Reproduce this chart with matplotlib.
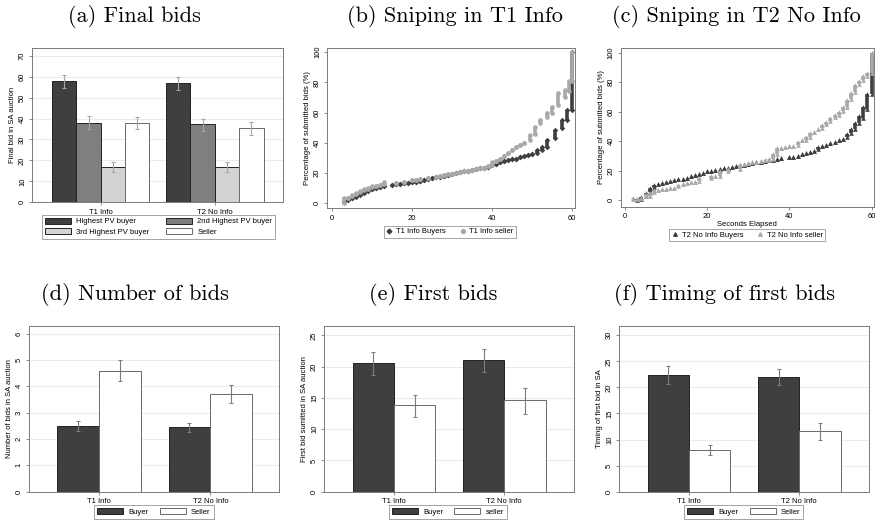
import numpy as np
import matplotlib.pyplot as plt
from matplotlib.patches import Patch
from matplotlib.lines import Line2D

plt.rcParams['font.family'] = ['Liberation Sans', 'DejaVu Sans']

groups = ['T1 Info', 'T2 No Info']

# (a) final bids
final_labels = ['Highest PV buyer', '2nd Highest PV buyer', '3rd Highest PV buyer', 'Seller']
final_mean = [[57.8, 56.8], [38.0, 37.2], [16.7, 16.7], [38.0, 35.3]]
final_lo = [[54.8, 53.8], [35.0, 34.0], [14.5, 14.3], [35.0, 32.0]]
final_hi = [[60.6, 59.6], [41.0, 40.0], [19.0, 19.2], [40.6, 38.5]]

# (d) number of bids
nbids_mean = [[2.50, 2.44], [4.60, 3.71]]
nbids_lo = [[2.30, 2.27], [4.20, 3.37]]
nbids_hi = [[2.68, 2.62], [5.01, 4.07]]

# (e) first bids
first_mean = [[20.5, 21.1], [13.8, 14.6]]
first_lo = [[18.6, 19.2], [12.0, 12.4]]
first_hi = [[22.3, 22.8], [15.5, 16.6]]

# (f) timing of first bids
timing_mean = [[22.4, 22.0], [7.9, 11.6]]
timing_lo = [[20.7, 20.4], [7.0, 10.0]]
timing_hi = [[24.1, 23.6], [8.9, 13.1]]

# (b) sniping T1 Info: seconds, lowest and highest cumulative % at that second
t1_buy_sec = [3, 4, 5, 6, 7, 8, 9, 10, 11, 12, 13, 15, 16, 17, 18, 19, 20, 21, 22, 23, 24, 25,
              26, 27, 28, 29, 30, 31, 32, 33, 34, 35, 36, 37, 38, 39, 40, 41, 42, 43, 44, 45,
              46, 47, 48, 49, 50, 51.2, 52.5, 53.7, 55.8, 57.5, 58.7, 60]
t1_buy_lo = [0.5, 2, 3, 4, 5, 6.5, 8, 9.5, 10, 10.5, 11, 12, 12.3, 12.7, 13.2, 13.5, 13.8, 14.2,
             14.6, 15.1, 15.8, 16.3, 17, 17.5, 18, 18.6, 19.2, 19.8, 20.4, 21, 21.5, 22, 22.5,
             23, 23.4, 24, 25, 26, 27, 28, 28.5, 29, 29.5, 30.2, 31, 31.8, 32.6, 33.2, 35.2,
             37.4, 42.9, 49.6, 55, 61.5]
t1_buy_hi = [1.5, 2.5, 3.5, 4.5, 6, 7.5, 9, 9.5, 10, 10.5, 11, 12, 12.3, 12.7, 13.2, 13.5, 13.8,
             14.2, 14.6, 15.1, 15.8, 16.3, 17, 17.5, 18, 18.6, 19.2, 19.8, 20.4, 21, 21.5, 22,
             22.5, 23, 23.4, 24, 25, 26, 27, 28, 28.5, 29, 29.5, 30.2, 31, 31.8, 32.6, 35,
             37.4, 41.8, 48.4, 55, 61.7, 100]
t1_sel_sec = [3, 4, 5, 6, 7, 8, 9, 10, 11, 12, 13, 16, 18, 20, 21, 22, 24, 26, 27, 28, 29, 30,
              31, 32, 33, 34, 35, 36, 37, 38, 39, 40, 41, 42, 43, 44, 45, 46, 47, 48, 49.5,
              50.8, 52, 53.7, 55, 56.6, 58.3, 59.2, 60]
t1_sel_lo = [0, 3.5, 4.5, 6, 7.5, 8.5, 9.5, 10.5, 11.5, 12.2, 12.8, 13, 14.2, 15, 15.5, 16,
             16.8, 17.5, 18, 18.6, 19, 19.5, 20, 20.5, 21, 21.5, 22, 22.5, 23, 23.5, 24.5, 25,
             28, 29.5, 31, 33, 35, 37, 38.5, 39.5, 41.8, 46, 53, 57, 59.7, 65, 70.5, 74, 81]
t1_sel_hi = [3, 3.5, 5, 6.5, 8, 9, 10, 11, 11.5, 12.2, 14, 13, 14.2, 15, 15.5, 16, 16.8, 17.5,
             18, 18.6, 19, 19.5, 20, 20.5, 21, 21.5, 22, 22.5, 23, 23.5, 24.5, 27, 28, 29.5,
             31, 33, 35, 37, 38.5, 39.5, 45, 50.6, 55, 59.7, 64, 73, 75, 81, 100]

# (c) sniping T2 No Info
t2_buy_sec = [3, 4, 5, 6, 7, 8, 9, 10, 11, 12, 13, 14, 15, 16, 17, 18, 19, 20, 21, 22, 23, 24,
              25, 26, 27, 28, 29, 30, 31, 32, 33, 34, 35, 36, 37, 38, 40, 41, 42, 43, 44, 45,
              46, 47, 48, 49, 50, 51, 52, 53, 54, 55, 56, 57, 58, 59, 60]
t2_buy_lo = [0, 1, 3, 5.5, 9, 11, 11.7, 12.3, 12.8, 13.3, 14, 14.6, 15.3, 16, 16.8, 17.6, 18.5,
             19.5, 20, 20.6, 21.1, 21.6, 22.1, 22.6, 23.1, 23.6, 24.1, 24.6, 25, 25.5, 26, 26.5,
             27, 27.5, 28, 28.4, 29, 29.5, 30, 31, 31.8, 32.6, 33.5, 34.5, 36.5, 37.5, 38.5,
             39.5, 40.5, 41.5, 42.5, 45.5, 48, 52, 56, 62, 72]
t2_buy_hi = [1, 2, 5, 8.5, 10.5, 11, 11.7, 12.3, 12.8, 13.3, 14, 14.6, 15.3, 16, 16.8, 17.6,
             18.5, 19.5, 20, 20.6, 21.1, 21.6, 22.1, 22.6, 23.1, 23.6, 24.1, 24.6, 25, 25.5, 26,
             26.5, 27, 27.5, 28, 28.4, 29, 29.5, 30, 31, 31.8, 32.6, 33.5, 36, 36.5, 37.5, 38.5,
             39.5, 40.5, 41.5, 45, 48, 52, 57, 63, 72, 100]
t2_sel_sec = [2, 3, 4, 5, 6, 7, 8, 9, 10, 11, 12, 13, 14, 15, 16, 17, 18, 21, 22, 23, 25, 28,
              29, 30, 31, 32, 33, 34, 35, 36, 37, 38, 39, 40, 41, 42, 43, 44, 45, 46, 47, 48,
              49, 50, 51, 52, 53, 54, 55, 56, 57, 58, 59, 60]
t2_sel_lo = [0.5, 1, 1.5, 2.5, 3, 5.5, 6.8, 7.2, 7.6, 8, 8.5, 9.5, 11, 11.5, 12, 12.5, 13, 15,
             16.5, 16.5, 20, 21, 24.5, 25, 25.5, 26, 26.5, 27, 27.5, 28, 31, 35.5, 36, 36.5, 37,
             37.5, 40.5, 41, 43, 46.5, 48, 49, 51.5, 53.5, 56.5, 58, 60.5, 63.5, 68.5, 73.5,
             78.5, 81.5, 84.5, 86]
t2_sel_hi = [1.5, 1, 1.5, 4, 5, 6.5, 6.8, 7.2, 7.6, 8, 8.5, 10.5, 11, 11.5, 12, 12.5, 15, 16,
             16.5, 19.5, 21, 24, 24.5, 25, 25.5, 26, 26.5, 27, 28, 31, 35, 35.5, 36, 36.5, 37,
             39.5, 40.5, 42.5, 45.5, 46.5, 48, 51, 53, 56, 57.5, 60, 63, 68, 73, 78, 81, 84, 86,
             100]

DARK = '#3f3f3f'
MID = '#7f7f7f'
LIGHT = '#d3d3d3'
PTLIGHT = '#a9a9a9'
FRAME = '#7a7a7a'
FS = 5.5

W, H = 875, 523


def px_axes(fig, left, top, right, bottom):
    return fig.add_axes([left / W, 1 - bottom / H, (right - left) / W, (bottom - top) / H])


def style(ax, yticks, ylim):
    for s in ax.spines.values():
        s.set_color(FRAME)
        s.set_linewidth(0.7)
    ax.set_ylim(*ylim)
    ax.set_yticks(yticks)
    ax.tick_params(axis='y', labelrotation=90, labelsize=FS, length=2.5, width=0.6,
                   color=FRAME, pad=2)
    for lab in ax.get_yticklabels():
        lab.set_va('center')
    ax.tick_params(axis='x', labelsize=FS, length=2.5, width=0.6, color=FRAME, pad=2)


def grid(ax, yticks):
    for y in yticks[1:]:
        ax.axhline(y, color='#ebebeb', lw=0.8, zorder=0)


def bars(ax, means, los, his, colors, width, errcol):
    n = len(means)
    x = np.arange(len(groups))
    for i in range(n):
        xi = x + (i - (n - 1) / 2) * width
        m = np.array(means[i])
        yerr = [m - np.array(los[i]), np.array(his[i]) - m]
        ec = '#222222' if colors[i] != 'white' else '#6a6a6a'
        ax.bar(xi, m, width, color=colors[i], edgecolor=ec, linewidth=0.7, zorder=2)
        ax.errorbar(xi, m, yerr=yerr, fmt='none', ecolor=errcol, elinewidth=0.8,
                    capsize=1.6, capthick=0.8, zorder=3)
    ax.set_xticks(x)
    ax.set_xticklabels(groups)
    ax.tick_params(axis='x', length=0)


def bar_legend(ax, labels, colors, anchor, ncol, order=None, colsp=1.5):
    hs = []
    for lab, c in zip(labels, colors):
        ec = '#222222' if c != 'white' else '#6a6a6a'
        hs.append(Patch(facecolor=c, edgecolor=ec, linewidth=0.7, label=lab))
    if order is not None:
        hs = [hs[k] for k in order]
    leg = ax.legend(handles=hs, ncol=ncol, fontsize=FS, frameon=True, fancybox=False,
                    edgecolor=FRAME, handlelength=3.4, handleheight=0.9, borderpad=0.4,
                    columnspacing=colsp, handletextpad=0.7, labelspacing=0.3,
                    loc='center', bbox_to_anchor=anchor)
    leg.get_frame().set_linewidth(0.6)


def streaks(ax, sec, lo, hi, color, marker, ms, z):
    ax.vlines(sec, lo, hi, color=color, lw=2.6, zorder=z)
    ax.scatter(sec, lo, s=ms, marker=marker, color=color, linewidths=0, zorder=z)
    ax.scatter(sec, hi, s=ms, marker=marker, color=color, linewidths=0, zorder=z)


def point_legend(ax, hs, anchor):
    leg = ax.legend(handles=hs, ncol=2, loc='center', bbox_to_anchor=anchor,
                    fontsize=FS, fancybox=False, edgecolor=FRAME, handlelength=0.8,
                    handletextpad=0.5, columnspacing=1.8, borderpad=0.3)
    leg.get_frame().set_linewidth(0.6)


fig = plt.figure(figsize=(8.75, 5.23), dpi=100)

TFONT = dict(fontfamily='cmr10', fontsize=16, ha='center', va='center')
titles = [('(a) Final bids', 134, 16), ('(b) Sniping in T1 Info', 455, 16),
          ('(c) Sniping in T2 No Info', 736, 16), ('(d) Number of bids', 135, 294),
          ('(e) First bids', 433, 294), ('(f) Timing of first bids', 724, 294)]
for t, x, y in titles:
    fig.text(x / W, 1 - y / H, t, **TFONT)

# (a)
ax = px_axes(fig, 32.3, 47.7, 283.3, 202.3)
yt = list(range(0, 80, 10))
grid(ax, yt)
bars(ax, final_mean, final_lo, final_hi, [DARK, MID, LIGHT, 'white'], 0.2136, '#a5a5a5')
ax.set_xlim(-0.6, 1.6)
style(ax, yt, (0, 73.8))
ax.set_ylabel('Final bid in SA auction', fontsize=FS, labelpad=2)
bar_legend(ax, final_labels, [DARK, MID, LIGHT, 'white'], (0.503, -0.157), 2,
           order=[0, 2, 1, 3], colsp=2.2)

# (b)
ax = px_axes(fig, 327.3, 47.7, 575, 208.3)
streaks(ax, t1_buy_sec, t1_buy_lo, t1_buy_hi, DARK, 'D', 8, 2)
streaks(ax, t1_sel_sec, t1_sel_lo, t1_sel_hi, PTLIGHT, 'o', 11, 3)
ax.set_xlim(-1.25, 60.8)
ax.set_xticks([0, 20, 40, 60])
style(ax, [0, 20, 40, 60, 80, 100], (-3.5, 103))
ax.set_ylabel('Percentage of submitted bids (%)', fontsize=FS, labelpad=2)
point_legend(ax, [Line2D([], [], ls='none', marker='D', ms=2.4, color=DARK, label='T1 Info Buyers'),
                  Line2D([], [], ls='none', marker='o', ms=2.8, color=PTLIGHT, label='T1 Info seller')],
             (0.495, -0.146))

# (c)
ax = px_axes(fig, 620.7, 48.3, 874, 206.7)
streaks(ax, t2_buy_sec, t2_buy_lo, t2_buy_hi, DARK, '^', 11, 2)
streaks(ax, t2_sel_sec, t2_sel_lo, t2_sel_hi, PTLIGHT, '^', 11, 3)
ax.set_xlim(-1.05, 60.6)
ax.set_xticks([0, 20, 40, 60])
style(ax, [0, 20, 40, 60, 80, 100], (-4.5, 103))
ax.set_ylabel('Percentage of submitted bids (%)', fontsize=FS, labelpad=2)
ax.set_xlabel('Seconds Elapsed', fontsize=FS, labelpad=0.5)
point_legend(ax, [Line2D([], [], ls='none', marker='^', ms=2.6, color=DARK, label='T2 No Info Buyers'),
                  Line2D([], [], ls='none', marker='^', ms=2.6, color=PTLIGHT, label='T2 No Info seller')],
             (0.5, -0.18))

# (d), (e), (f)
lower = [
    (29, 279.3, nbids_mean, nbids_lo, nbids_hi, list(range(0, 7)), 6.28, 'Number of bids in SA auction', ['Buyer', 'Seller'], (-0.63, 1.62), 0.498),
    (324.3, 574.3, first_mean, first_lo, first_hi, list(range(0, 30, 5)), 26.44, 'First bid sumitted in SA auction', ['Buyer', 'seller'], (-0.632, 1.635), 0.494),
    (619.3, 869.3, timing_mean, timing_lo, timing_hi, list(range(0, 35, 5)), 31.7, 'Timing of first bid in SA', ['Buyer', 'Seller'], (-0.632, 1.635), 0.497),
]
for left, right, m, lo, hi, yt, top, ylab, labs, xl, lx in lower:
    ax = px_axes(fig, left, 326.3, right, 491.7)
    grid(ax, yt)
    bars(ax, m, lo, hi, [DARK, 'white'], 0.376, '#7d7d7d')
    ax.set_xlim(*xl)
    style(ax, yt, (0, top))
    ax.set_ylabel(ylab, fontsize=FS, labelpad=2)
    bar_legend(ax, labs, [DARK, 'white'], (lx, -0.123), 2)

fig.savefig('out.png', dpi=100)
